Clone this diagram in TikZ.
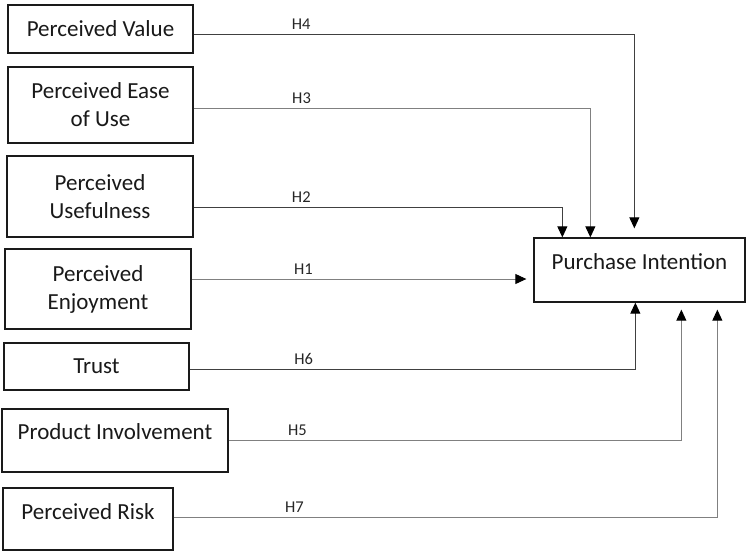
\documentclass[tikz,border=0pt]{standalone}
\usepackage{fontspec}
\setmainfont{Carlito}
\usepackage{tikz}
\usetikzlibrary{calc,arrows.meta}
\definecolor{boxLine}{HTML}{1A1A1A}
\definecolor{pathDark}{HTML}{404040}
\definecolor{pathGrey}{HTML}{808080}
\tikzset{
  construct/.style={rectangle, draw=boxLine, fill=white, line width=1.3pt, align=center, font=\fontsize{23}{28}\selectfont, text=black!90, inner sep=2pt},
  raised/.style={text height=15pt, text depth=#1},
  hyparrow/.style={-{Triangle[length=11pt,width=10pt,color=black]}, line width=0.9pt, draw=#1},
  hyparrow/.default=pathDark,
  hyplabel/.style={above=3pt, font=\fontsize{16.5}{18}\selectfont, text=black!85, inner sep=1pt},
}

\begin{document}
\begin{tikzpicture}[x=1pt,y=-1pt]
  \useasboundingbox (0,0) rectangle (747,552);

  \node[construct, minimum width=185pt, minimum height=48pt] (pv) at (100.5,29) {Perceived Value};
  \node[construct, minimum width=185pt, minimum height=76pt] (peou) at (100.5,105) {Perceived Ease\\of Use};
  \node[construct, minimum width=186pt, minimum height=81pt] (pu) at (100,196.5) {Perceived\\Usefulness};
  \node[construct, minimum width=186pt, minimum height=80pt] (pe) at (98,289) {Perceived\\Enjoyment};
  \node[construct, minimum width=185pt, minimum height=47pt] (trust) at (96.5,366.5) {Trust};
  \node[construct, raised=18pt, minimum width=226pt, minimum height=63pt] (pinv) at (115,440.5) {Product Involvement};
  \node[construct, raised=15pt, minimum width=170pt, minimum height=62pt] (pr) at (88,519) {Perceived Risk};

  \node[construct, raised=17pt, minimum width=211pt, minimum height=64pt] (pi) at (639.5,270) {Purchase Intention};

  % --- hypothesised paths ---
  \draw[hyparrow, shorten >=9pt] ([yshift=-5pt]pv.east) -| node[hyplabel, pos=0.122]{H4} ([xshift=101pt]pi.north west);
  \draw[hyparrow=pathGrey] ([yshift=-3pt]peou.east) -| node[hyplabel, pos=0.136]{H3} ([xshift=57pt]pi.north west);
  \draw[hyparrow] ([yshift=-10.5pt]pu.east) -| node[hyplabel, pos=0.146]{H2} ([xshift=29pt]pi.north west);
  \draw[hyparrow=pathGrey, shorten >=7pt] ([yshift=10pt]pe.east) -- node[hyplabel, pos=0.327]{H1} ([yshift=-9pt]pi.west);
  \draw[hyparrow] ([yshift=-2.5pt]trust.east) -| node[hyplabel, pos=0.128]{H6} ([xshift=102pt]pi.south west);
  \draw[hyparrow=pathGrey, shorten >=7pt] (pinv.east) -| node[hyplabel, pos=0.076]{H5} ([xshift=148pt]pi.south west);
  \draw[hyparrow=pathGrey, shorten >=7pt] ([yshift=2pt]pr.east) -| node[hyplabel, pos=0.111]{H7} ([xshift=184pt]pi.south west);
\end{tikzpicture}
\end{document}
